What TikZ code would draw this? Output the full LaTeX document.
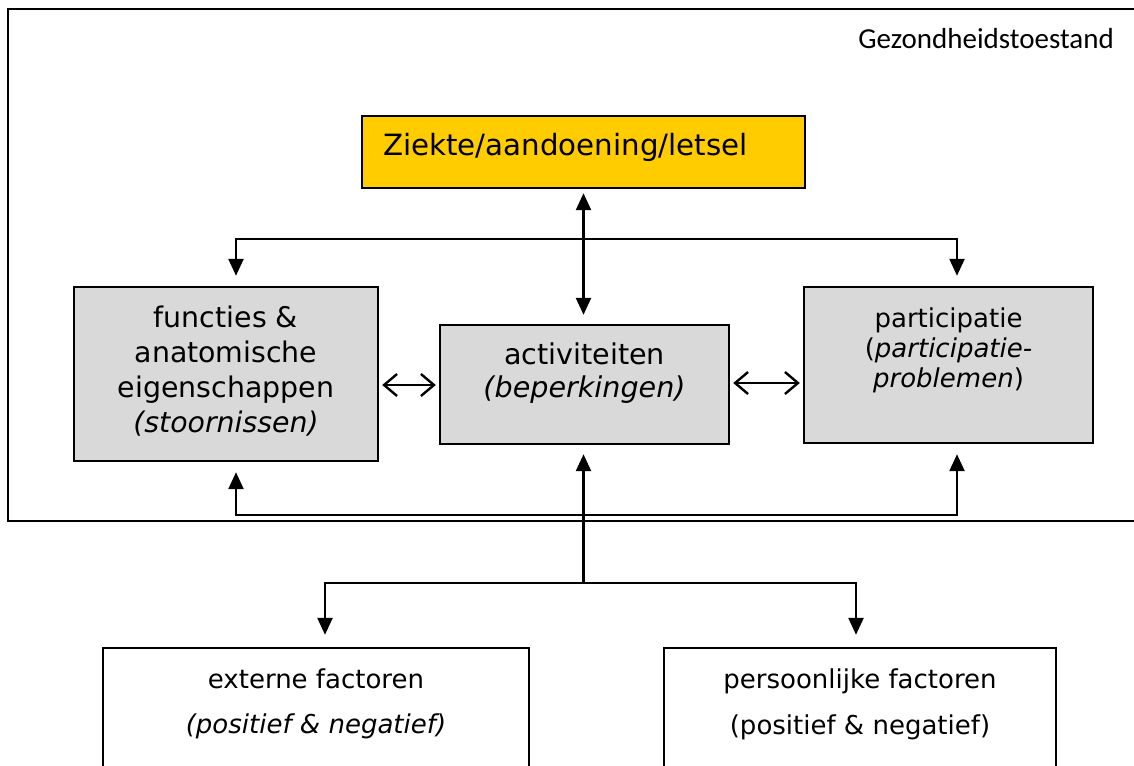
\documentclass[tikz,border=0pt]{standalone}
\usepackage{fontspec}
\setmainfont{DejaVu Sans}
\newfontfamily\calib{Carlito}
\usetikzlibrary{arrows.meta}
\definecolor{boxgray}{HTML}{D9D9D9}
\definecolor{ziekteyellow}{HTML}{FFCC00}
\tikzset{
  gbox/.style={draw=black, line width=2.4pt, fill=boxgray, inner sep=0pt},
  ybox/.style={draw=black, line width=2.4pt, fill=ziekteyellow, inner sep=0pt},
  wbox/.style={draw=black, line width=2.4pt, fill=white, inner sep=0pt},
  txt/.style={inner sep=0pt, align=center, anchor=base},
  conn/.style={line width=2.4pt, draw=black},
  solidtip/.style={conn, -{Triangle[length=17pt,width=15pt]}},
  solidboth/.style={conn, {Triangle[length=17pt,width=15pt]}-{Triangle[length=17pt,width=15pt]}},
  openboth/.style={conn, {Straight Barb[length=13pt,width=22pt]}-{Straight Barb[length=13pt,width=22pt]}},
}
\begin{document}
\begin{tikzpicture}[x=1pt, y=-1pt]
\useasboundingbox (0,0) rectangle (1134,765);
\fill[white] (0,0) rectangle (1134,765);
% frame
\draw[line width=2.4pt] (1134,9) -- (8,9) -- (8,521) -- (1134,521);
\node[inner sep=0pt, anchor=base east, font=\calib\fontsize{29}{34}\selectfont] (tgez) at (1114,49) {Gezondheidstoestand};
% boxes
\node[ybox, minimum width=443pt, minimum height=72pt] (ziekte) at (583.5,152) {};
\node[inner sep=0pt, anchor=base west, font=\fontsize{29.3}{35}\selectfont] (tziekte) at (383,155) {Ziekte/aandoening/letsel};
\node[gbox, minimum width=304pt, minimum height=174pt] (funct) at (226,374) {};
\node[txt, font=\fontsize{28.4}{35}\selectfont] (tfunct) at (226,432) {functies \&\\anatomische\\eigenschappen\\\textit{(stoornissen)}};
\node[gbox, minimum width=289pt, minimum height=119pt] (activ) at (584.5,384.5) {};
\node[txt, font=\fontsize{28.6}{33}\selectfont] (tactiv) at (584.5,397) {activiteiten\\\textit{(beperkingen)}};
\node[gbox, minimum width=289pt, minimum height=156pt] (partic) at (948.5,365) {};
\node[txt, font=\fontsize{26}{30}\selectfont] (tpartic) at (948.5,387) {participatie\\(\textit{participatie-}\\\textit{problemen})};
\node[wbox, minimum width=426pt, minimum height=142pt] (ext) at (316,719) {};
\node[txt, font=\fontsize{26}{45}\selectfont] (text) at (316,733) {externe factoren\\\textit{(positief \& negatief)}};
\node[wbox, minimum width=392pt, minimum height=142pt] (pers) at (860,719) {};
\node[txt, font=\fontsize{26}{46}\selectfont] (tpers) at (860,734) {persoonlijke factoren\\(positief \& negatief)};
% junctions
\coordinate (tj) at (583.5,239);
\coordinate (fj) at (583.5,515);
\coordinate (bj) at (583.5,583);
% connectors
\draw[solidboth, shorten <=4pt, shorten >=9pt] (ziekte.south) -- (ziekte.south |- activ.north);
\draw[solidtip, shorten >=10pt] (tj) -| ([xshift=10pt]funct.north);
\draw[solidtip, shorten >=10pt] (tj) -| ([xshift=8.5pt]partic.north);
\draw[openboth, shorten <=3pt, shorten >=3pt] (funct.east |- 0,385) -- (activ.west |- 0,385);
\draw[openboth, shorten <=3pt, shorten >=3pt] (activ.east |- 0,383) -- (partic.west |- 0,383);
\draw[solidtip, shorten >=9pt] (bj) -- (bj |- activ.south);
\draw[solidtip, shorten >=10pt] (fj) -| ([xshift=10pt]funct.south);
\draw[solidtip, shorten >=10pt] (fj) -| ([xshift=8.5pt]partic.south);
\draw[solidtip, shorten >=12pt] (bj) -| ([xshift=9pt]ext.north);
\draw[solidtip, shorten >=12pt] (bj) -| ([xshift=-4pt]pers.north);
\end{tikzpicture}
\end{document}
